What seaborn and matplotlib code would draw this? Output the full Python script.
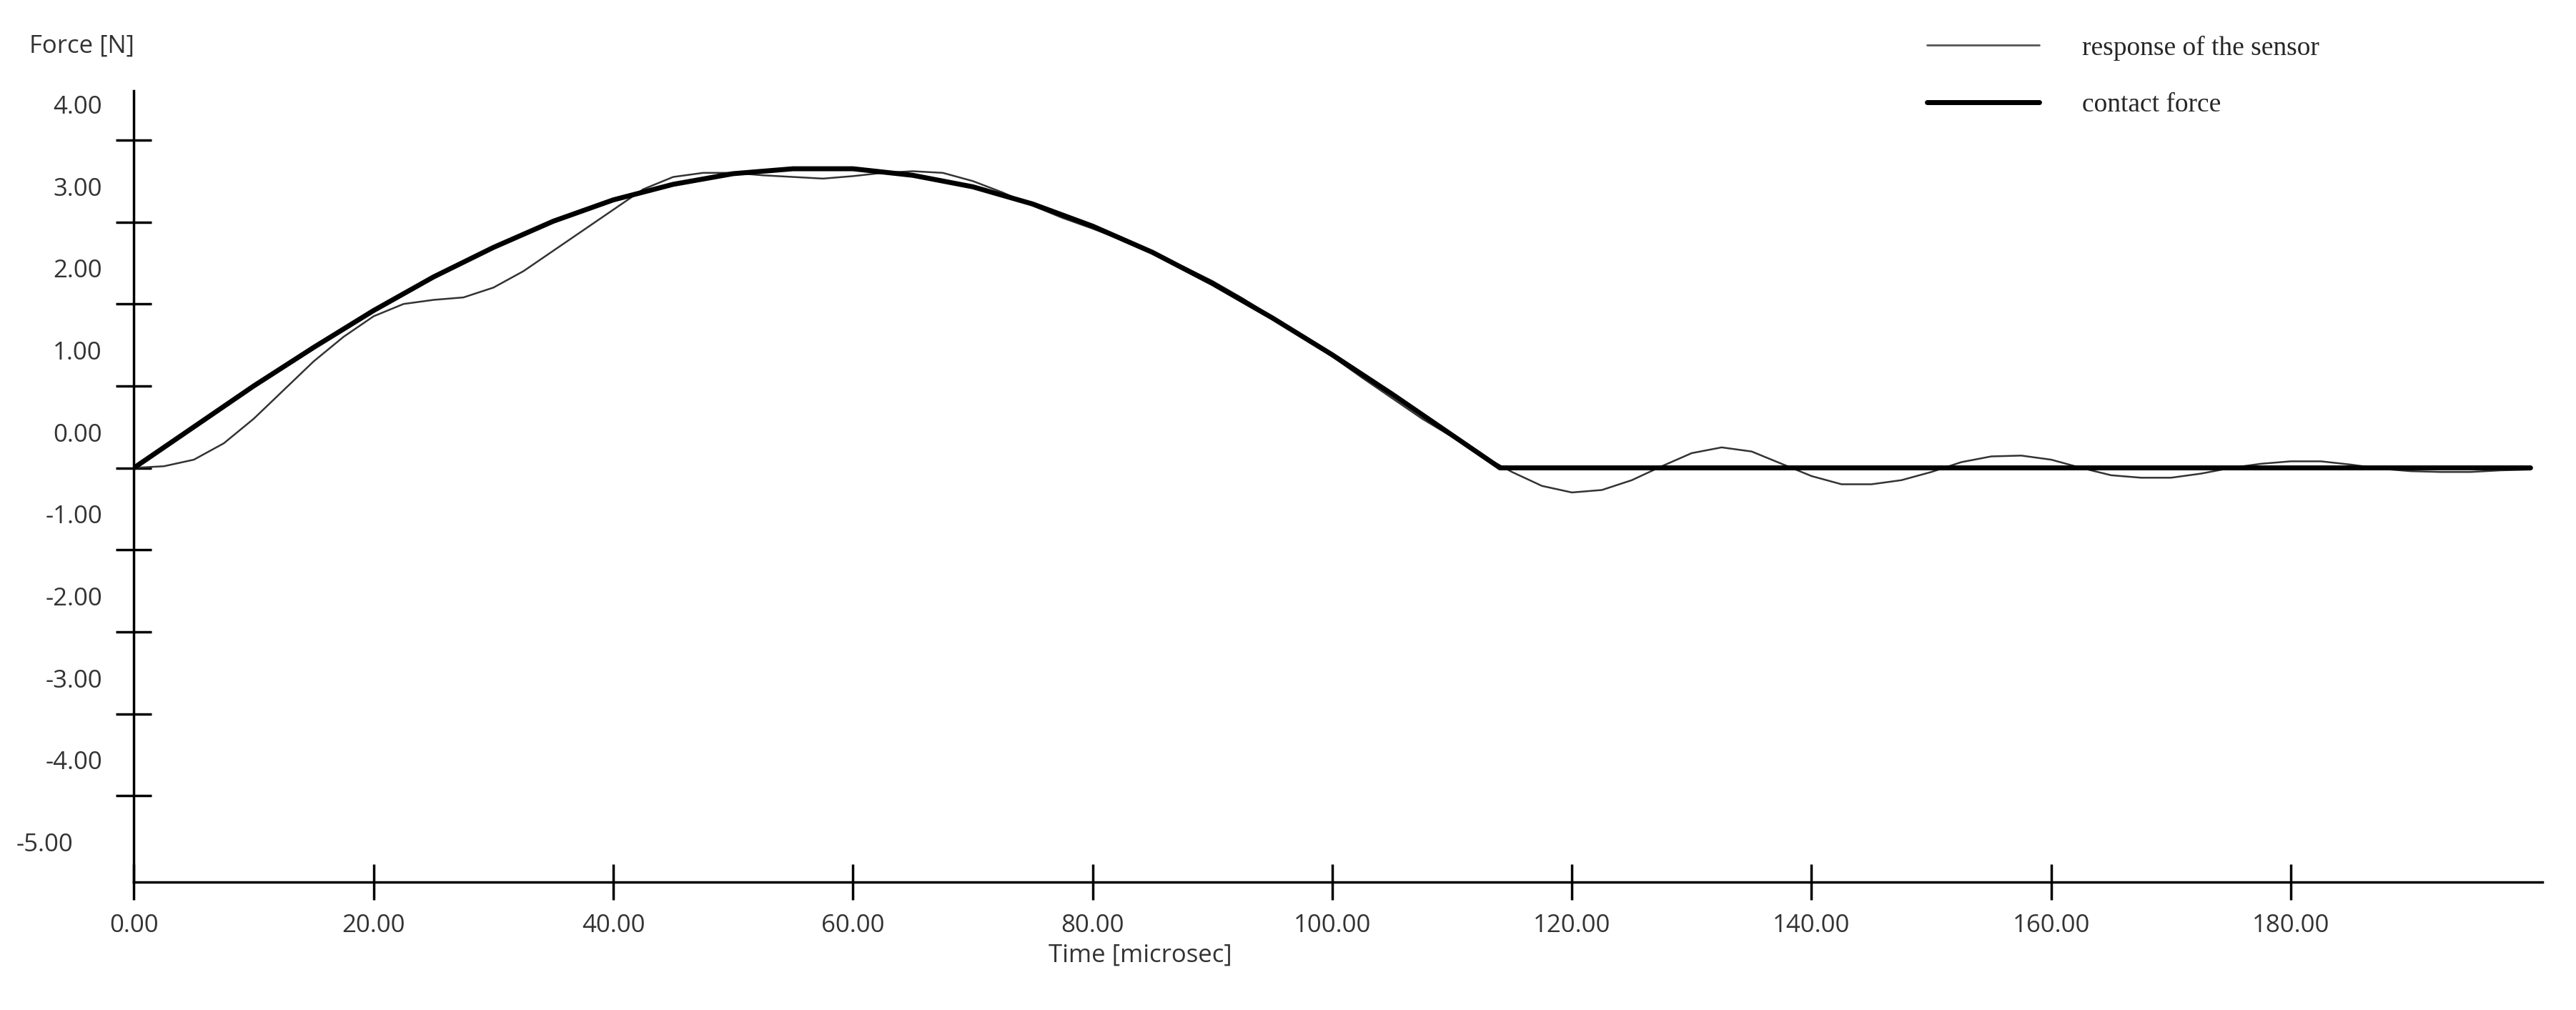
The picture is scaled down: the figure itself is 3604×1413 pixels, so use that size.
import pandas as pd
import matplotlib.pyplot as plt
import seaborn as sns
from matplotlib.lines import Line2D
from matplotlib.transforms import offset_copy

sns.set_style('white')
plt.rcParams['font.family'] = ['Open Sans', 'DejaVu Sans']

# contact force [N] vs time [microsec]
t_force = [0, 5, 10, 15, 20, 25, 30, 35, 40, 45, 50, 55, 60, 65, 70, 75, 80, 85,
           90, 95, 100, 105, 110, 114, 150, 200]
f_force = [0, 0.50, 1.00, 1.47, 1.92, 2.33, 2.69, 3.01, 3.27, 3.46, 3.59, 3.65,
           3.65, 3.57, 3.43, 3.22, 2.95, 2.63, 2.25, 1.83, 1.38, 0.90, 0.40, 0, 0, 0]

# response of the sensor
t_sens = [0, 2.5, 5, 7.5, 10, 12.5, 15, 17.5, 20, 22.5, 25, 27.5, 30, 32.5, 35, 37.5,
          40, 42.5, 45, 47.5, 50, 52.5, 55, 57.5, 60, 62.5, 65, 67.5, 70, 72.5, 75,
          77.5, 80, 82.5, 85, 87.5, 90, 92.5, 95, 97.5, 100, 102.5, 105, 107.5, 110,
          112.5, 115, 117.5, 120, 122.5, 125, 127.5, 130, 132.5, 135, 137.5, 140,
          142.5, 145, 147.5, 150, 152.5, 155, 157.5, 160, 162.5, 165, 167.5, 170,
          172.5, 175, 177.5, 180, 182.5, 185, 187.5, 190, 192.5, 195, 197.5, 200]
f_sens = [0, 0.02, 0.1, 0.3, 0.6, 0.95, 1.3, 1.6, 1.85, 2.0, 2.05, 2.08, 2.2, 2.4,
          2.65, 2.9, 3.15, 3.4, 3.55, 3.6, 3.6, 3.57, 3.55, 3.53, 3.56, 3.6, 3.62,
          3.6, 3.5, 3.36, 3.2, 3.05, 2.92, 2.78, 2.62, 2.46, 2.28, 2.07, 1.84, 1.6,
          1.36, 1.1, 0.85, 0.6, 0.38, 0.15, -0.05, -0.22, -0.3, -0.27, -0.15, 0.02,
          0.18, 0.25, 0.2, 0.05, -0.1, -0.2, -0.2, -0.15, -0.05, 0.07, 0.14, 0.15,
          0.1, 0.0, -0.09, -0.12, -0.12, -0.07, 0.0, 0.05, 0.08, 0.08, 0.04, -0.01,
          -0.04, -0.05, -0.05, -0.03, -0.02]

x_ticks = [0, 20, 40, 60, 80, 100, 120, 140, 160, 180]
y_ticks = [4, 3, 2, 1, 0, -1, -2, -3, -4, -5]

df_f = pd.DataFrame({'t': t_force, 'f': f_force})
df_s = pd.DataFrame({'t': t_sens, 'f': f_sens})

fig = plt.figure(figsize=(36.04, 14.13), dpi=100)
ax = fig.add_axes([0.052, 0.127, 0.935, 0.783])
sns.lineplot(data=df_s, x='t', y='f', color='#333333', linewidth=1.8, ax=ax)
sns.lineplot(data=df_f, x='t', y='f', color='black', linewidth=5, ax=ax)

ax.set_xlim(0, 201)
ax.set_ylim(-5.05, 4.6)
for s in ['top', 'right']:
    ax.spines[s].set_visible(False)
for s in ['left', 'bottom']:
    ax.spines[s].set_linewidth(2.5)
    ax.spines[s].set_color('black')

ax.set_xticks(x_ticks)
ax.set_xticklabels(['%.2f' % v for v in x_ticks])
ax.set_yticks([v for v in y_ticks if v > -5])
ax.set_yticklabels(['%.2f' % v for v in y_ticks if v > -5])
ax.tick_params(axis='both', direction='inout', length=36, width=2.5, color='black',
               labelsize=25, labelcolor='#333333', bottom=True, left=True)
ax.tick_params(axis='x', pad=14)
ax.tick_params(axis='y', pad=14)
# y labels in the reference sit about half a step above their ticks
for lab in ax.get_yticklabels():
    lab.set_transform(offset_copy(lab.get_transform(), fig=fig, y=50, units='dots'))
ax.text(-5.05, -4.6, '-5.00', ha='right', va='center', fontsize=25, color='#333333',
        transform=ax.transData, clip_on=False)
ax.set_xlabel('')
ax.set_ylabel('')
ax.text(84, -5.95, 'Time [microsec]', ha='center', va='center', fontsize=25, color='#333333')
fig.text(0.0115, 0.954, 'Force [N]', ha='left', va='center', fontsize=25, color='#333333')

handles = [Line2D([], [], color='#555555', linewidth=2),
           Line2D([], [], color='black', linewidth=5)]
fig.legend(handles, ['response of the sensor', 'contact force'], loc='upper left',
           bbox_to_anchor=(0.748, 0.965), frameon=False, handlelength=4.2,
           handletextpad=1.6, labelspacing=1.2, borderaxespad=0, borderpad=0,
           prop={'family': 'Liberation Serif', 'size': 27})

fig.savefig('out.png', dpi=100, facecolor='white')
